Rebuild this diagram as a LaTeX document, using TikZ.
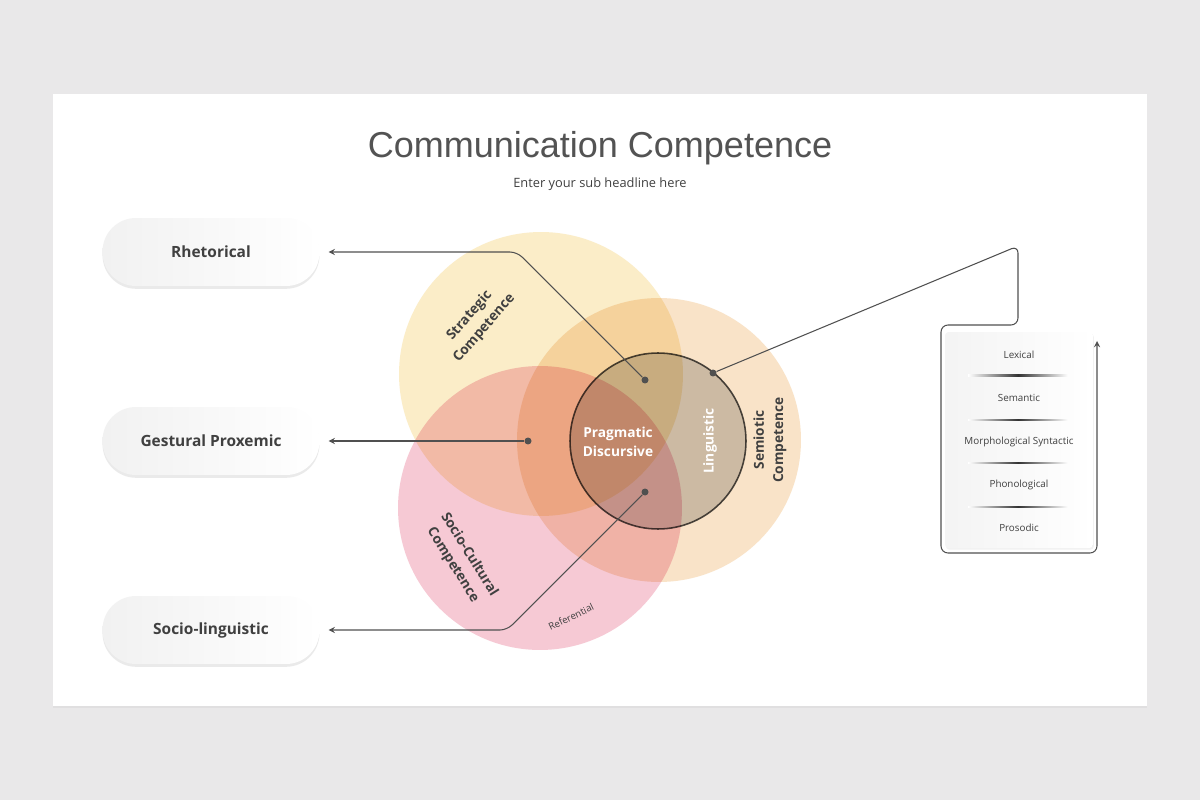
\documentclass[tikz,border=0pt]{standalone}
\usepackage{fontspec}
\setmainfont{Open Sans}
\newfontfamily\titlefont{Liberation Sans}
\usetikzlibrary{shadows}

\definecolor{bgray}{HTML}{E9E8E9}
\definecolor{ink}{HTML}{404040}
\definecolor{wirecol}{HTML}{505050}
\definecolor{stratcol}{HTML}{FBEDC8}
\definecolor{semiocol}{HTML}{F9E3C8}
\definecolor{sociocol}{HTML}{F6C9D4}

\begin{document}
\begin{tikzpicture}[
            x = 0.02cm, y = -0.02cm, % pixel grid, y runs down
            > = stealth, % arrow head style
            wire/.style = {draw=wirecol, line width=0.6pt, rounded corners=4pt},
            link/.style = {wire, ->, shorten > = 5pt}, % don't touch arrow head to node
            pill/.style = {shape=rectangle, rounded corners=0.67cm, minimum width=4.34cm,
                           minimum height=1.36cm, left color=gray!11, right color=white,
                           drop shadow={opacity=0.16, shadow xshift=0pt, shadow yshift=-1.6pt},
                           font=\bfseries\fontsize{8.8}{11}\selectfont, text=ink},
            venn/.style = {shape=circle, minimum size=5.68cm, inner sep=0pt},
            lbl/.style = {font=\bfseries\fontsize{7.8}{11}\selectfont, text=ink, align=center},
            dot/.style = {shape=circle, fill=wirecol, inner sep=0pt, minimum size=0.14cm},
            item/.style = {font=\fontsize{5.6}{7}\selectfont, text=ink}
        ]

\fill[bgray] (0,0) rectangle (1200,800);
\useasboundingbox (0,0) rectangle (1200,800);
\node[fill=white, minimum width=21.88cm, minimum height=12.24cm, inner sep=0pt,
      drop shadow={opacity=0.08, shadow xshift=0pt, shadow yshift=-1pt}] (card) at (600,400) {};

\node[anchor=base, font=\titlefont\fontsize{20.5}{24}\selectfont, text=ink!90] (title) at (600,158) {Communication Competence};
\node[anchor=base, font=\fontsize{7.3}{9}\selectfont, text=ink] (sub) at (600,188) {Enter your sub headline here};

% venn
\begin{scope}[blend mode=multiply]
\node[venn, fill=stratcol] (strat) at (541,374) {};
\node[venn, fill=sociocol] (socio) at (540,508) {};
\node[venn, fill=semiocol] (semio) at (659,440) {};
\node[shape=circle, minimum size=3.52cm, inner sep=0pt, fill=black!18, draw=wirecol, line width=0.9pt] (ling) at (658,441) {};
\end{scope}

\node[lbl, rotate=49] (stratlbl) at (477,322) {Strategic\\Competence};
\node[lbl, rotate=90] (semiolbl) at (770,440) {Semiotic\\Competence};
\node[lbl, rotate=-58] (sociolbl) at (461,560) {Socio-Cultural\\Competence};
\node[lbl, text=white] (prag) at (618,442) {Pragmatic\\Discursive};
\node[lbl, text=white, rotate=90] (linglbl) at (710,441) {Linguistic};
\node[font=\fontsize{5.5}{7}\selectfont, text=ink, rotate=26] (refl) at (571,617) {Referential};

\node[dot] (d1) at (645,380) {};
\node[dot] (d2) at (713,373) {};
\node[dot] (d3) at (528,441) {};
\node[dot] (d4) at (645,492) {};

% left pills
\node[pill] (rhet) at (211,252) {Rhetorical};
\node[pill] (gest) at (211,441) {Gestural Proxemic};
\node[pill] (slin) at (211,630) {Socio-linguistic};

\coordinate (b1) at (517,252);
\coordinate (b3) at (507,630);
\draw[link] (d1) -- (b1) -- (rhet.east);
\draw[link] (d3) -- (gest.east);
\draw[link] (d4) -- (b3) -- (slin.east);

% right stack
\node[shape=rectangle, rounded corners=2pt, minimum width=2.96cm, minimum height=4.32cm,
      left color=gray!9, right color=white,
      drop shadow={opacity=0.1, shadow xshift=0.5pt, shadow yshift=-1pt}] (stack) at (1019,440) {};
\node[item] (lex) at (1019,355) {Lexical};
\node[item] (sem) at (1019,398) {Semantic};
\node[item] (mor) at (1019,442) {Morphological Syntactic};
\node[item] (pho) at (1019,485) {Phonological};
\node[item] (pro) at (1019,528) {Prosodic};
\foreach \y in {375,419,462,506}
  \shade[left color=white, right color=white, middle color=black!80] (968,\y) rectangle (1068,\y+1.6);

\coordinate (c1) at (1018,246);
\coordinate (c2) at (1018,325);
\coordinate (c3) at (941,325);
\coordinate (c4) at (941,553);
\coordinate (c5) at (1097,553);
\coordinate (c6) at (1097,341);
\draw[wire, ->] (d2) -- (c1) -- (c2) -- (c3) -- (c4) -- (c5) -- (c6);
\end{tikzpicture}
\end{document}
